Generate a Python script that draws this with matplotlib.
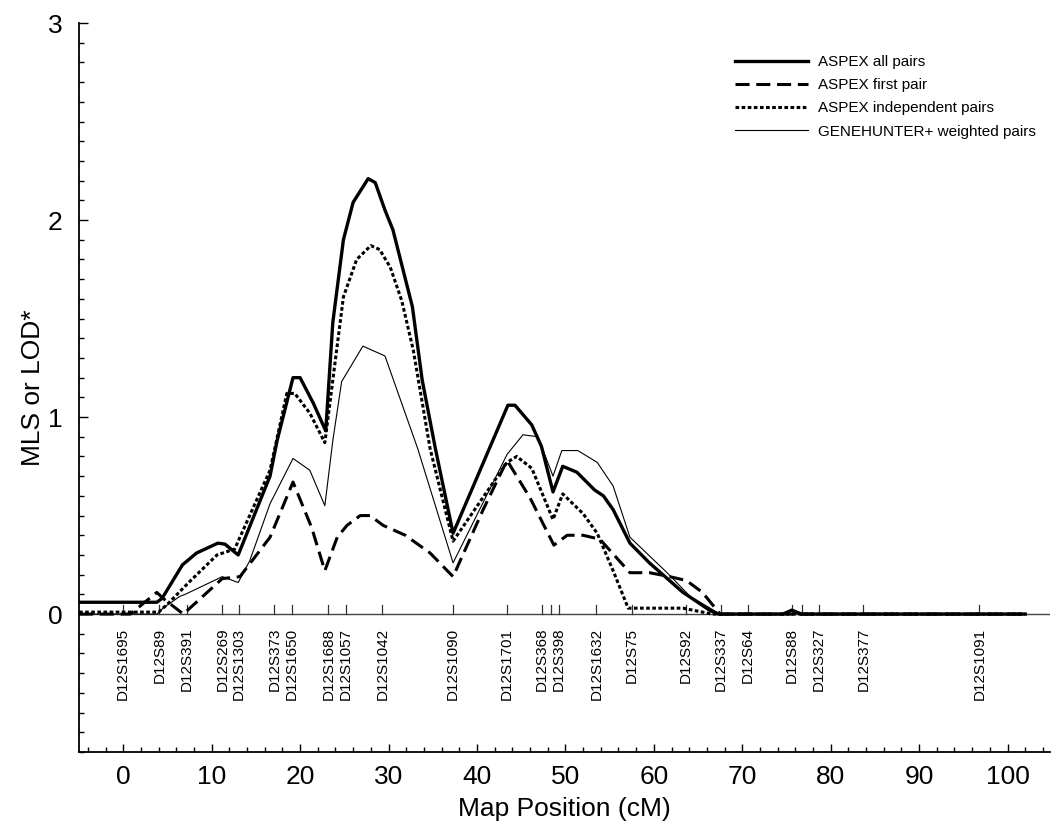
import numpy as np
import matplotlib
matplotlib.use("Agg")
import matplotlib.pyplot as plt
from matplotlib.ticker import MultipleLocator

plt.rcParams['font.family'] = ['Liberation Sans', 'DejaVu Sans']

# ASPEX all pairs
all_x = [-5, 3.8, 4.4, 6.7, 8.3, 10.7, 11.5, 13.0, 16.6, 17.4, 19.2, 20.0, 21.5, 22.9,
         23.7, 24.9, 26.0, 27.7, 28.5, 29.6, 30.5, 32.7, 33.8, 35.3, 37.3, 43.5, 44.3,
         46.2, 47.3, 48.6, 49.7, 51.3, 53.3, 54.3, 55.4, 57.3, 59.5, 63.3, 66.3, 67.3,
         74.6, 75.6, 76.7, 102.0]
all_y = [0.06, 0.06, 0.08, 0.25, 0.31, 0.36, 0.355, 0.30, 0.70, 0.88, 1.20, 1.20, 1.07, 0.93,
         1.48, 1.90, 2.09, 2.21, 2.19, 2.05, 1.95, 1.56, 1.19, 0.84, 0.41, 1.06, 1.06,
         0.96, 0.85, 0.62, 0.75, 0.72, 0.63, 0.60, 0.53, 0.36, 0.26, 0.11, 0.02, 0.0,
         0.0, 0.02, 0.0, 0.0]

# ASPEX first pair
first_x = [-5, 0.8, 3.8, 4.5, 6.8, 9.0, 11.2, 13.2, 16.6, 19.2, 21.3, 22.8, 24.2, 25.3,
           26.8, 27.9, 29.4, 31.9, 34.7, 37.3, 40.7, 43.4, 46.0, 48.7, 50.2, 52.0, 53.9,
           57.3, 59.5, 61.8, 63.7, 65.5, 67.5, 102.0]
first_y = [0.0, 0.0, 0.11, 0.08, 0.0, 0.09, 0.18, 0.19, 0.39, 0.67, 0.44, 0.22, 0.39, 0.45,
           0.50, 0.50, 0.45, 0.40, 0.31, 0.19, 0.53, 0.78, 0.59, 0.35, 0.40, 0.40, 0.38,
           0.21, 0.21, 0.19, 0.17, 0.11, 0.0, 0.0]

# ASPEX independent pairs
ind_x = [-5, 4.0, 5.0, 7.4, 10.6, 12.6, 16.6, 18.5, 19.4, 21.1, 22.8, 24.9, 26.4, 28.0,
         29.0, 30.2, 31.5, 32.8, 34.7, 37.3, 43.4, 44.5, 46.2, 48.6, 49.7, 52.0, 53.6,
         55.4, 57.1, 63.3, 66.6, 102.0]
ind_y = [0.01, 0.01, 0.05, 0.16, 0.30, 0.33, 0.73, 1.12, 1.12, 1.02, 0.87, 1.61, 1.80, 1.87,
         1.85, 1.76, 1.59, 1.34, 0.84, 0.37, 0.77, 0.80, 0.74, 0.48, 0.61, 0.51, 0.41,
         0.22, 0.03, 0.03, 0.0, 0.0]

# GENEHUNTER+ weighted pairs
gh_x = [-5, 3.8, 4.5, 6.4, 7.0, 11.2, 13.0, 14.3, 16.6, 19.2, 21.1, 22.8, 23.7, 24.7,
        27.1, 29.6, 33.3, 37.3, 43.4, 45.2, 46.9, 48.6, 49.6, 51.4, 53.6, 55.4, 57.3,
        61.5, 64.1, 67.5, 74.6, 75.6, 76.7, 102.0]
gh_y = [0.0, 0.0, 0.03, 0.09, 0.10, 0.19, 0.16, 0.27, 0.56, 0.79, 0.73, 0.55, 0.88, 1.18,
        1.36, 1.31, 0.84, 0.26, 0.81, 0.91, 0.90, 0.70, 0.83, 0.83, 0.77, 0.65, 0.39,
        0.21, 0.09, 0.0, 0.0, 0.015, 0.0, 0.0]

marker_pos = [0, 4.1, 7.2, 11.2, 13.1, 17.1, 19.1, 23.2, 25.2, 29.3, 37.3, 43.4, 47.3,
              49.3, 53.5, 57.5, 63.6, 67.6, 70.6, 75.6, 78.7, 83.7, 96.8]
marker_names = ["D12S1695", "D12S89", "D12S391", "D12S269", "D12S1303", "D12S373",
                "D12S1650", "D12S1688", "D12S1057", "D12S1042", "D12S1090", "D12S1701",
                "D12S368", "D12S398", "D12S1632", "D12S75", "D12S92", "D12S337",
                "D12S64", "D12S88", "D12S327", "D12S377", "D12S1091"]
extra_ticks = [48.4, 76.7]

fig = plt.figure(figsize=(10.52, 8.22), dpi=100)
ax = fig.add_axes([79 / 1052, 1 - 752 / 822, 971 / 1052, 729 / 822])

# baseline and marker positions
ax.axhline(0, color='#444444', lw=1.0, zorder=1)
for p in marker_pos + extra_ticks:
    ax.plot([p, p], [0, 0.045], color='#333333', lw=0.9, zorder=1)
for p, name in zip(marker_pos, marker_names):
    ax.text(p, -0.07, name, rotation=90, ha='center', va='top', fontsize=11)

ax.plot(all_x, all_y, color='black', lw=2.4, label='ASPEX all pairs')
ax.plot(first_x, first_y, color='black', lw=2.2, dashes=(4.6, 2.2), label='ASPEX first pair')
ax.plot(ind_x, ind_y, color='black', lw=2.2, dashes=(1.2, 0.8), label='ASPEX independent pairs')
ax.plot(gh_x, gh_y, color='black', lw=0.8, label='GENEHUNTER+ weighted pairs')

ax.set_xlim(-5, 104.8)
ax.set_ylim(-0.7, 3)
ax.spines['top'].set_visible(False)
ax.spines['right'].set_visible(False)
ax.spines['left'].set_linewidth(1.3)
ax.spines['bottom'].set_linewidth(1.3)

ax.set_xticks(np.arange(0, 101, 10))
ax.xaxis.set_minor_locator(MultipleLocator(2))
ax.set_yticks([0, 1, 2, 3])
ax.yaxis.set_minor_locator(MultipleLocator(0.1))
ax.tick_params(which='both', direction='in', width=1.0)
ax.tick_params(axis='x', which='major', length=6, pad=9, labelsize=19)
ax.tick_params(axis='x', which='minor', length=3.5)
ax.tick_params(axis='y', which='major', length=6.5, pad=12, labelsize=19)
ax.tick_params(axis='y', which='minor', length=3.5)

ax.set_xlabel('Map Position (cM)', fontsize=19, labelpad=6)
ax.set_ylabel('MLS or LOD*', fontsize=19, labelpad=2)

ax.legend(loc='upper left', bbox_to_anchor=(0.6756, 0.956), frameon=False,
          borderpad=0, borderaxespad=0, handlelength=4.8, handletextpad=0.6,
          labelspacing=0.6, fontsize=11)

fig.savefig('out.png', dpi=100)
